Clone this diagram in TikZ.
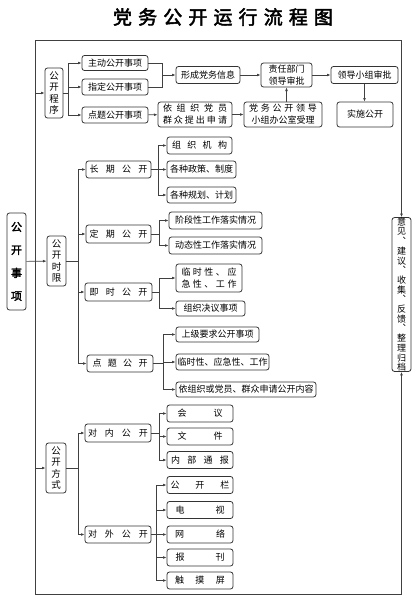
\documentclass[tikz,border=0pt]{standalone}
\usepackage{fontspec}
\newfontfamily\cjk{Noto Sans CJK SC}
\newfontfamily\cjkbold[FakeBold=2.5]{Noto Sans CJK SC}
\usetikzlibrary{arrows.meta,calc}
\newcommand\spr[2]{\makebox[#1]{#2}}
\begin{document}
\begin{tikzpicture}[x=1pt,y=-1pt,
  box/.style={draw=black!80, line width=0.8pt, rounded corners=2.5pt, inner sep=0pt, fill=white, font=\cjk\fontsize{9}{12}\selectfont, align=center},
  bx/.style 2 args={box, minimum width=#1pt, minimum height=#2pt},
  vstack/.style={font=\cjk\fontsize{9.5}{11.5}\selectfont},
  conn/.style={draw=black!75, line width=0.7pt},
  arr/.style={conn, -{Latex[length=3.6pt,width=2.8pt]}}
]
\useasboundingbox (0,0) rectangle (415,600);

% title
\node[inner sep=0pt, font=\cjkbold\fontsize{19}{20}\selectfont] (title) at (223,17)
  {\spr{220pt}{党\hfill 务\hfill 公\hfill 开\hfill 运\hfill 行\hfill 流\hfill 程\hfill 图}};

% frame
\coordinate (tl) at (35,40);
\coordinate (bl) at (35,594);

% ---------- 公开程序 ----------
\node[bx={18}{50}, vstack] (cx) at (54,93) {公\\开\\程\\序};
\node[bx={66}{15}] (zd) at (115,63) {主动公开事项};
\node[bx={66}{16}] (zdg) at (115,87) {指定公开事项};
\node[bx={66}{16}] (dt) at (115,115) {点题公开事项};
\coordinate (m) at (162,75);
\node[bx={64}{17}] (xc) at (208,75) {形成党务信息};
\node[bx={51}{24}] (zr) at (286.5,75) {责任部门\\领导审批};
\node[bx={67}{17}] (ld) at (364.5,75) {领导小组审批};
\node[bx={56}{25}] (ss) at (365,114.5) {实施公开};
\node[bx={74}{25}] (yz) at (195,114.5)
  {\spr{64pt}{依\hfill 组\hfill 织\hfill 党\hfill 员}\\\spr{64pt}{群\hfill 众\hfill 提\hfill 出\hfill 申\hfill 请}};
\node[bx={78}{25}] (bg) at (283,114.5)
  {\spr{68pt}{党\hfill 务\hfill 公\hfill 开\hfill 领\hfill 导}\\\spr{68pt}{小组办公室受理}};

\draw[arr] (cx.east) -- ++(5,0) |- (zd.west);
\draw[arr] (cx.east) -- ++(5,0) |- (zdg.west);
\draw[arr] (cx.east) -- ++(5,0) |- (dt.west);
\draw[conn] (zd.east) -| (m);
\draw[conn] (zdg.east) -| (m);
\draw[arr] (m) -- (xc.west);
\draw[arr] (xc) -- (zr);
\draw[arr] (zr) -- (ld);
\draw[arr] (ld.south) -- (ld.south |- ss.north);
\draw[arr] (dt) -- (yz);
\draw[arr] (yz) -- (bg);
\draw[arr] (zr.south |- bg.north) -- (zr.south);

% ---------- 公开时限 ----------
\node[bx={19}{97}, font=\cjkbold\fontsize{11}{23}\selectfont] (gs) at (16.5,261.5) {公\\开\\事\\项};
\node[bx={19}{50}, vstack] (sx) at (56.5,261) {公\\开\\时\\限};

\node[bx={65}{17}] (cq) at (118.5,169.5) {\spr{58pt}{长\hfill 期\hfill 公\hfill 开}};
\node[bx={65}{18}] (dq) at (118.5,234) {\spr{58pt}{定\hfill 期\hfill 公\hfill 开}};
\node[bx={67}{18}] (js) at (118.5,292) {\spr{58pt}{即\hfill 时\hfill 公\hfill 开}};
\node[bx={66}{17}] (dtg) at (120,363.5) {\spr{55pt}{点\hfill 题\hfill 公\hfill 开}};

\node[bx={65}{17}] (a1) at (199.5,145.5) {\spr{55pt}{组\hfill 织\hfill 机\hfill 构}};
\node[bx={69}{17}] (a2) at (201.5,169.5) {各种政策、制度};
\node[bx={69}{16}] (a3) at (201.5,195) {各种规划、计划};

\node[bx={93}{17}] (b1) at (215.5,220.5) {阶段性工作落实情况};
\node[bx={93}{17}] (b2) at (215.5,245.5) {动态性工作落实情况};

\node[bx={66}{28}] (c1) at (209,278)
  {\spr{55pt}{临\hfill 时\hfill 性\hfill 、\hfill 应}\\\spr{55pt}{急\hfill 性\hfill 、\hfill 工\hfill 作}};
\node[bx={69}{15}] (c2) at (210.5,308.5) {组织决议事项};

\node[bx={83}{15}] (d1) at (217.5,334.5) {上级要求公开事项};
\node[bx={93}{16}] (d2) at (222.5,362) {临时性、应急性、工作};
\node[bx={140}{15}] (d3) at (246,389.5) {依组织或党员、群众申请公开内容};

\draw[arr] (gs) -- (sx);
\draw[arr] (sx.east) -- ++(12,0) |- (cq.west);
\draw[arr] (sx.east) -- ++(12,0) |- (dq.west);
\draw[arr] (sx.east) -- ++(12,0) |- (js.west);
\draw[arr] (sx.east) -- ++(12,0) |- (dtg.west);

\draw[arr] (cq.east) -- ++(7,0) |- (a1.west);
\draw[arr] (cq.east) -- ++(7,0) |- (a2.west);
\draw[arr] (cq.east) -- ++(7,0) |- (a3.west);
\draw[arr] (dq.east) -- ++(8,0) |- (b1.west);
\draw[arr] (dq.east) -- ++(8,0) |- (b2.west);
\draw[arr] (js.east) -- ++(7,0) |- (c1.west);
\draw[arr] (js.east) -- ++(7,0) |- (c2.west);
\draw[arr] (dtg.east) -- ++(10,0) |- (d1.west);
\draw[arr] (dtg.east) -- ++(10,0) |- (d2.west);
\draw[arr] (dtg.east) -- ++(10,0) |- (d3.west);

% ---------- 公开方式 ----------
\node[bx={20}{50}, vstack] (fs) at (56,468) {公\\开\\方\\式};
\node[bx={66}{18}] (dn) at (118,433) {\spr{60pt}{对\hfill 内\hfill 公\hfill 开}};
\node[bx={66}{17}] (dw) at (118,534.5) {\spr{60pt}{对\hfill 外\hfill 公\hfill 开}};

\node[bx={66}{17}] (e1) at (200,413.5) {\spr{45pt}{会\hfill 议}};
\node[bx={66}{17}] (e2) at (200,436.5) {\spr{45pt}{文\hfill 件}};
\node[bx={66}{17}] (e3) at (200,460) {\spr{58pt}{内\hfill 部\hfill 通\hfill 报}};

\node[bx={66}{17}] (f1) at (200,485) {\spr{59pt}{公\hfill 开\hfill 栏}};
\node[bx={66}{17}] (f2) at (200,510) {\spr{49pt}{电\hfill 视}};
\node[bx={66}{17}] (f3) at (200,534.5) {\spr{50pt}{网\hfill 络}};
\node[bx={66}{17}] (f4) at (200,557.5) {\spr{49pt}{报\hfill 刊}};
\node[bx={66}{17}] (f5) at (200,580.5) {\spr{50pt}{触\hfill 摸\hfill 屏}};

\draw[arr] (fs.east) -- ++(12,0) |- (dn.west);
\draw[arr] (fs.east) -- ++(12,0) |- (dw.west);
\draw[arr] (dn.east) -- ++(8,0) |- (e1.west);
\draw[arr] (dn.east) -- ++(8,0) |- (e2.west);
\draw[arr] (dn.east) -- ++(8,0) |- (e3.west);
\draw[arr] (dw.east) -- ++(5,0) |- (f1.west);
\draw[arr] (dw.east) -- ++(5,0) |- (f2.west);
\draw[arr] (dw.east) -- ++(5,0) |- (f3.west);
\draw[arr] (dw.east) -- ++(5,0) |- (f4.west);
\draw[arr] (dw.east) -- ++(5,0) |- (f5.west);

% ---------- feedback ----------
\node[bx={19}{145}, font=\cjk\fontsize{9}{9.7}\selectfont] (yj) at (401.5,294.5)
  {意\\见\\︑\\建\\议\\︑\\收\\集\\︑\\反\\馈\\︑\\整\\理\\归\\档};

% frame lines and entry arrows
\draw[arr] (bl) -- (tl) -| (yj.north);
\draw[arr] (bl) -| (yj.south);
\draw[arr] (cx.west -| tl) -- (cx.west);
\draw[arr] (fs.west -| tl) -- (fs.west);
\end{tikzpicture}
\end{document}
